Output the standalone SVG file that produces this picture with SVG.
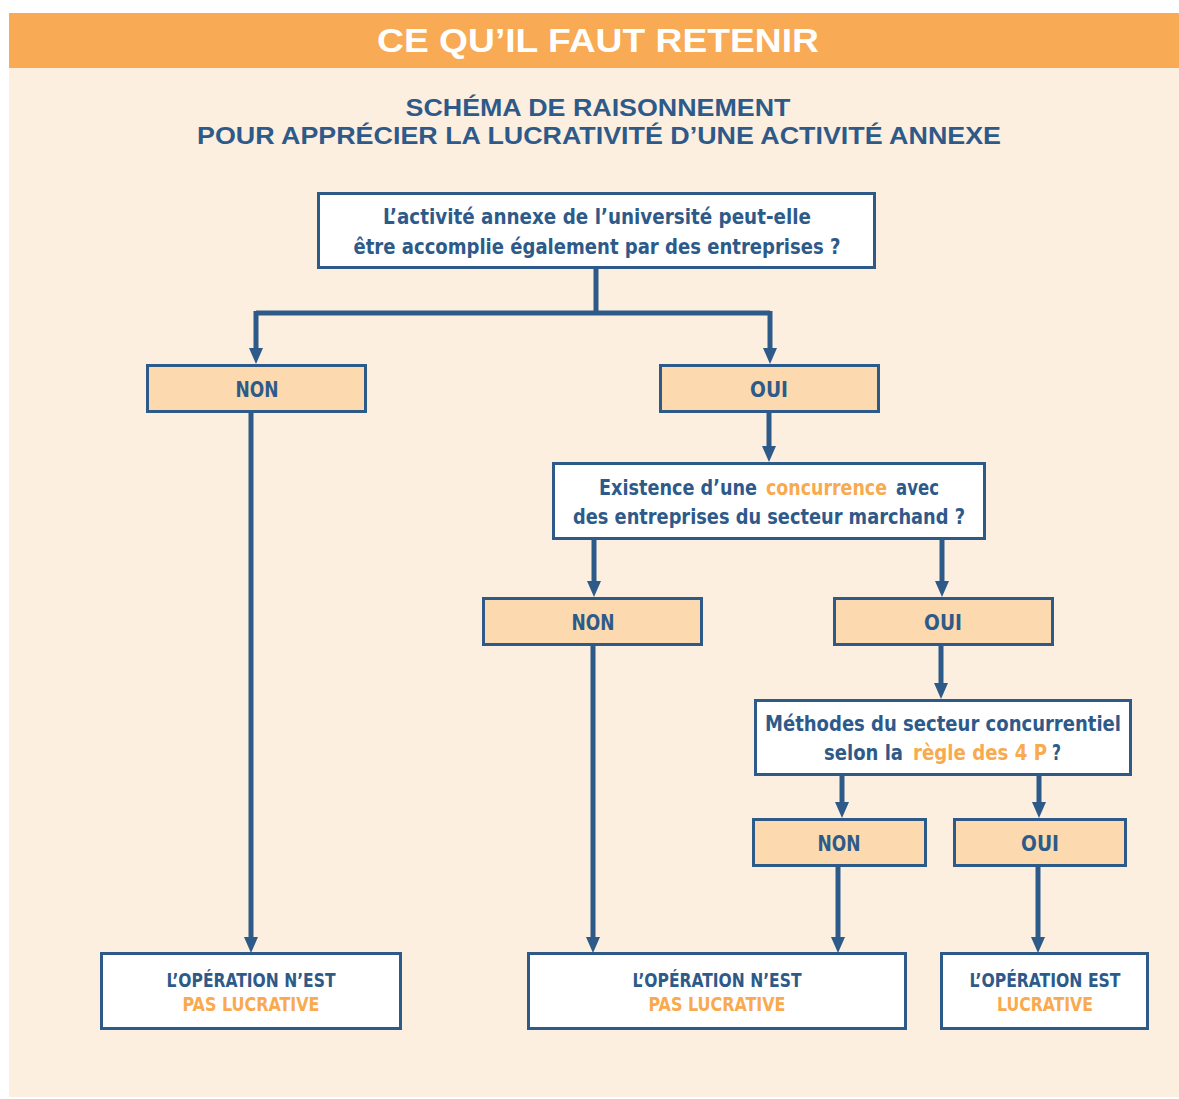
<svg xmlns="http://www.w3.org/2000/svg" width="1179" height="1099" viewBox="0 0 1179 1099">
<defs>
<style>
.hd{font-family:"Liberation Sans",Arial,sans-serif;font-weight:bold;text-anchor:middle}
.t{font-family:"DejaVu Sans Condensed","DejaVu Sans","Liberation Sans",sans-serif;font-weight:bold;fill:#2E5A8A;text-anchor:middle}
.s{text-anchor:start}
.q{font-size:21px}
.a{font-size:22px}
.r{font-size:20px}
.o{fill:#F9A94E}
.wb{fill:#FFFFFF;stroke:#2E5A8A;stroke-width:3}
.ob{fill:#FCD9AE;stroke:#2E5A8A;stroke-width:3}
.c{fill:none;stroke:#2E5A8A;stroke-width:5}
</style>
<marker id="ah" markerUnits="userSpaceOnUse" markerWidth="16" markerHeight="14" refX="0" refY="7" orient="auto" viewBox="0 0 16 14">
<path d="M0,0 L16,7 L0,14 z" fill="#2E5A8A"/>
</marker>
</defs>
<rect x="0" y="0" width="1179" height="1099" fill="#FFFFFF"/>
<rect x="9" y="68" width="1170" height="1029" fill="#FDEFDF"/>
<rect x="9" y="13" width="1170" height="55" fill="#F9AA55"/>
<text class="hd" x="598" y="52" font-size="34" fill="#FFFFFF" textLength="442" lengthAdjust="spacingAndGlyphs">CE QU’IL FAUT RETENIR</text>
<text class="hd" x="598" y="116" font-size="24" fill="#2E5A8A" textLength="385" lengthAdjust="spacingAndGlyphs">SCHÉMA DE RAISONNEMENT</text>
<text class="hd" x="599" y="144" font-size="24" fill="#2E5A8A" textLength="804" lengthAdjust="spacingAndGlyphs">POUR APPRÉCIER LA LUCRATIVITÉ D’UNE ACTIVITÉ ANNEXE</text>

<g id="connectors">
<path class="c" d="M596,268 V313 M256,313 H770"/>
<path class="c" d="M256,311 V348" marker-end="url(#ah)"/>
<path class="c" d="M770,311 V348" marker-end="url(#ah)"/>
<path class="c" d="M251,412 V937" marker-end="url(#ah)"/>
<path class="c" d="M769,412 V446" marker-end="url(#ah)"/>
<path class="c" d="M594,539 V581" marker-end="url(#ah)"/>
<path class="c" d="M942,539 V581" marker-end="url(#ah)"/>
<path class="c" d="M593,645 V937" marker-end="url(#ah)"/>
<path class="c" d="M941,645 V683" marker-end="url(#ah)"/>
<path class="c" d="M842,775 V802" marker-end="url(#ah)"/>
<path class="c" d="M1039,775 V802" marker-end="url(#ah)"/>
<path class="c" d="M838,866 V937" marker-end="url(#ah)"/>
<path class="c" d="M1038,866 V937" marker-end="url(#ah)"/>
</g>

<g id="q1">
<rect class="wb" x="318.5" y="193.5" width="556" height="74"/>
<text class="t q" x="597" y="224" textLength="428" lengthAdjust="spacingAndGlyphs">L’activité annexe de l’université peut-elle</text>
<text class="t q" x="597" y="254" textLength="487" lengthAdjust="spacingAndGlyphs">être accomplie également par des entreprises ?</text>
</g>
<g id="non1">
<rect class="ob" x="147.5" y="365.5" width="218" height="46"/>
<text class="t a" x="257" y="397" textLength="43" lengthAdjust="spacingAndGlyphs">NON</text>
</g>
<g id="oui1">
<rect class="ob" x="660.5" y="365.5" width="218" height="46"/>
<text class="t a" x="769" y="397" textLength="38" lengthAdjust="spacingAndGlyphs">OUI</text>
</g>
<g id="q2">
<rect class="wb" x="553.5" y="463.5" width="431" height="75"/>
<text class="t q s" x="599" y="495" textLength="158" lengthAdjust="spacingAndGlyphs">Existence d’une</text>
<text class="t q s o" x="766" y="495" textLength="121" lengthAdjust="spacingAndGlyphs">concurrence</text>
<text class="t q s" x="896" y="495" textLength="43" lengthAdjust="spacingAndGlyphs">avec</text>
<text class="t q" x="769" y="524" textLength="392" lengthAdjust="spacingAndGlyphs">des entreprises du secteur marchand ?</text>
</g>
<g id="non2">
<rect class="ob" x="483.5" y="598.5" width="218" height="46"/>
<text class="t a" x="593" y="630" textLength="43" lengthAdjust="spacingAndGlyphs">NON</text>
</g>
<g id="oui2">
<rect class="ob" x="834.5" y="598.5" width="218" height="46"/>
<text class="t a" x="943" y="630" textLength="38" lengthAdjust="spacingAndGlyphs">OUI</text>
</g>
<g id="q3">
<rect class="wb" x="755.5" y="700.5" width="375" height="74"/>
<text class="t q" x="943" y="731" textLength="356" lengthAdjust="spacingAndGlyphs">Méthodes du secteur concurrentiel</text>
<text class="t q s" x="824" y="760" textLength="79" lengthAdjust="spacingAndGlyphs">selon la</text>
<text class="t q s o" x="913" y="760" textLength="134" lengthAdjust="spacingAndGlyphs">règle des 4 P</text>
<text class="t q s" x="1052" y="760" textLength="9" lengthAdjust="spacingAndGlyphs">?</text>
</g>
<g id="non3">
<rect class="ob" x="753.5" y="819.5" width="172" height="46"/>
<text class="t a" x="839" y="851" textLength="43" lengthAdjust="spacingAndGlyphs">NON</text>
</g>
<g id="oui3">
<rect class="ob" x="954.5" y="819.5" width="171" height="46"/>
<text class="t a" x="1040" y="851" textLength="38" lengthAdjust="spacingAndGlyphs">OUI</text>
</g>
<g id="r1">
<rect class="wb" x="101.5" y="953.5" width="299" height="75"/>
<text class="t r" x="251" y="987" textLength="169" lengthAdjust="spacingAndGlyphs">L’OPÉRATION N’EST</text>
<text class="t r o" x="251" y="1011" textLength="137" lengthAdjust="spacingAndGlyphs">PAS LUCRATIVE</text>
</g>
<g id="r2">
<rect class="wb" x="528.5" y="953.5" width="377" height="75"/>
<text class="t r" x="717" y="987" textLength="169" lengthAdjust="spacingAndGlyphs">L’OPÉRATION N’EST</text>
<text class="t r o" x="717" y="1011" textLength="137" lengthAdjust="spacingAndGlyphs">PAS LUCRATIVE</text>
</g>
<g id="r3">
<rect class="wb" x="941.5" y="953.5" width="206" height="75"/>
<text class="t r" x="1045" y="987" textLength="151" lengthAdjust="spacingAndGlyphs">L’OPÉRATION EST</text>
<text class="t r o" x="1045" y="1011" textLength="96" lengthAdjust="spacingAndGlyphs">LUCRATIVE</text>
</g>
</svg>
